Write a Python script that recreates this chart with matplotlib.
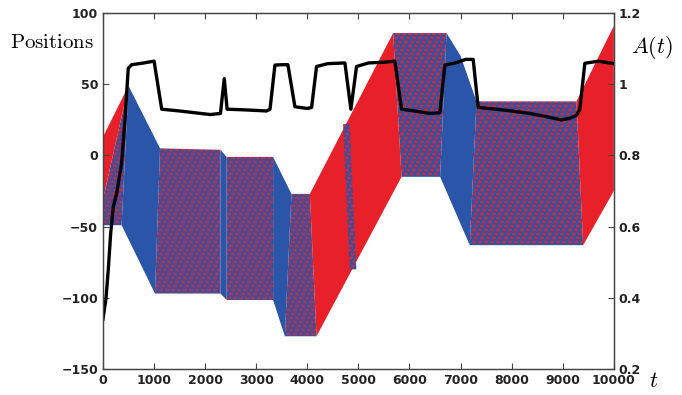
import matplotlib
matplotlib.use("Agg")
import numpy as np
import matplotlib.pyplot as plt
from matplotlib.path import Path
from matplotlib.patches import PathPatch
from matplotlib.colors import to_rgb

plt.rcParams['mathtext.fontset'] = 'cm'

RED = "#e8202a"
BLUE = "#2a55a8"

# band regions: time knots and positions
red1_t, red1_y = [0, 500, 0], [13, 49, -31]
mix1_t, mix1_y = [0, 500, 365, 0], [-31, 49, -49, -49]
blue1_t, blue1_y = [500, 1117, 1018, 365], [49, 5, -97, -49]
mix2_t, mix2_y = [1117, 2300, 2300, 1018], [5, 4, -97, -97]
blue2_t, blue2_y = [2300, 2420, 2420, 2300], [4, -1, -101.5, -97]
mix3_t, mix3_y = [2420, 3330, 3330, 2420], [-1, -1, -101.5, -101.5]
blue3_t, blue3_y = [3330, 3690, 3560, 3330], [-1, -27, -127, -101.5]
mix4_t, mix4_y = [3690, 4050, 4180, 3560], [-27, -27, -127, -127]
red2_t, red2_y = [4050, 5680, 5845, 4180], [-27, 86, -15, -127]
mix5_t, mix5_y = [4700, 4830, 4960, 4830], [22, 22, -80, -80]
mix6_t, mix6_y = [5680, 6725, 6600, 5845], [86, 86, -15, -15]
blue4_t, blue4_y = [6725, 7000, 7312, 7180, 6600], [86, 70, 38, -63, -15]
mix7_t, mix7_y = [7312, 9270, 9400, 7180], [38, 38, -63, -63]
red3_t, red3_y = [9270, 10000, 10000, 9400], [38, 91, -25, -63]

# A(t) curve
a_t = [0, 60, 104, 150, 202, 267, 365, 430, 495, 560, 800, 1000, 1150, 1500, 1800,
       2100, 2300, 2374, 2430, 2800, 3200, 3270, 3366, 3500, 3620, 3757, 4000,
       4084, 4181, 4400, 4736, 4853, 4964, 5200, 5500, 5714, 5845, 6100, 6400,
       6595, 6693, 6900, 7100, 7247, 7345, 7704, 8000, 8356, 8681, 8977, 9150,
       9271, 9335, 9433, 9700, 10000]
a_v = [0.34, 0.40, 0.48, 0.58, 0.656, 0.693, 0.778, 0.90, 1.045, 1.055, 1.06, 1.065,
       0.93, 0.925, 0.92, 0.915, 0.918, 1.016, 0.93, 0.928, 0.925, 0.93, 1.054,
       1.055, 1.055, 0.937, 0.932, 0.935, 1.05, 1.058, 1.06, 0.93, 1.05, 1.06,
       1.062, 1.065, 0.93, 0.925, 0.918, 0.92, 1.054, 1.06, 1.07, 1.07, 0.935,
       0.93, 0.925, 0.918, 0.909, 0.90, 0.905, 0.913, 0.93, 1.059, 1.065, 1.058]

fig = plt.figure(figsize=(6.82, 3.95), dpi=100)
ax = fig.add_axes([0.151, 0.0658, 0.749, 0.901])

# mixed (standing) phases: blue with red dashes, one texture clipped to the polygons
ii, jj = np.indices((178, 255))
is_red = (ii % 2 == 0) & ((jj + ii // 2) % 3 != 0)
tex = np.where(is_red[..., None], to_rgb(RED), to_rgb(BLUE))
img = ax.imshow(tex, extent=(0, 10000, -150, 100), aspect='auto',
                interpolation='nearest', zorder=0.5)
mixed = [(mix1_t, mix1_y), (mix2_t, mix2_y), (mix3_t, mix3_y), (mix4_t, mix4_y),
         (mix6_t, mix6_y), (mix7_t, mix7_y)]
clip = Path.make_compound_path(*[Path(np.column_stack([t + t[:1], y + y[:1]]), closed=True)
                                 for t, y in mixed])
patch = PathPatch(clip, transform=ax.transData, facecolor='none', edgecolor='none')
ax.add_patch(patch)
img.set_clip_path(patch)

for t, y in [(blue1_t, blue1_y), (blue2_t, blue2_y), (blue3_t, blue3_y), (blue4_t, blue4_y)]:
    ax.fill(t, y, color=BLUE, lw=0)
for t, y in [(red1_t, red1_y), (red2_t, red2_y), (red3_t, red3_y)]:
    ax.fill(t, y, color=RED, lw=0)
# stripe inside the red ramp sits on top
img2 = ax.imshow(tex, extent=(0, 10000, -150, 100), aspect='auto',
                 interpolation='nearest', zorder=2)
patch2 = ax.fill(mix5_t, mix5_y, facecolor='none', lw=0)[0]
img2.set_clip_path(patch2)

ax.set_xlim(0, 10000)
ax.set_ylim(-150, 100)
ax.set_xticks(range(0, 10001, 1000))
ax.set_yticks([-150, -100, -50, 0, 50, 100])

ax2 = ax.twinx()
ax2.plot(a_t, a_v, color='black', lw=2.4)
ax2.set_ylim(0.2, 1.2)
ax2.set_yticks([0.2, 0.4, 0.6, 0.8, 1, 1.2])
ax2.set_yticklabels(['0.2', '0.4', '0.6', '0.8', '1', '1.2'])

for a in (ax, ax2):
    for s in a.spines.values():
        s.set_color('#444444')
        s.set_linewidth(0.9)
ax.tick_params(direction='in', top=True, labelsize=9, length=4, color='#444444')
ax2.tick_params(direction='in', labelsize=9, length=4, color='#444444')
for lab in ax.get_xticklabels() + ax.get_yticklabels() + ax2.get_yticklabels():
    lab.set_fontweight('bold')
    lab.set_color('#222222')

fig.text(0.015, 0.893, r'$\mathrm{Positions}$', fontsize=15, ha='left', va='center')
fig.text(0.925, 0.88, r'$A(t)$', fontsize=16, ha='left', va='center')
fig.text(0.958, 0.035, r'$t$', fontsize=16, ha='center', va='center')

fig.savefig("out.png", dpi=100)
